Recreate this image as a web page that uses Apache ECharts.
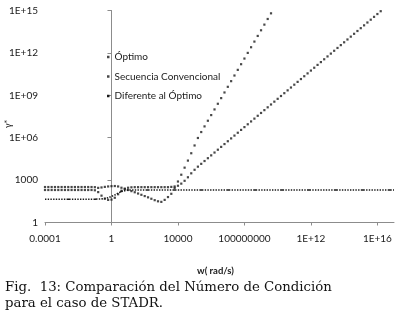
<!DOCTYPE html>
<html>
<head>
<meta charset="utf-8">
<script src="https://cdn.jsdelivr.net/npm/echarts@6/dist/echarts.min.js"></script>
<style>
  html, body { margin: 0; padding: 0; background: #fff; }
  #chart { width: 399px; height: 326px; }
</style>
</head>
<body>
<div id="chart"></div>
<script>
// both axes are logarithmic: values are stored as log10 exponents
const xTickValues = [-4, 0, 4, 8, 12, 16];
const xTickLabels = ["0.0001", "1", "10000", "100000000", "1E+12", "1E+16"];
const yTickValues = [0, 3, 6, 9, 12, 15];
const yTickLabels = ["1", "1000", "1E+06", "1E+09", "1E+12", "1E+15"];

const seriesNames = ["Óptimo", "Secuencia Convencional", "Diferente al Óptimo"];

// log10(w) sample grid, 5 points per decade
const logW = [
  -4.0, -3.8, -3.6, -3.4, -3.2, -3.0, -2.8, -2.6, -2.4, -2.2,
  -2.0, -1.8, -1.6, -1.4, -1.2, -1.0, -0.8, -0.6, -0.4, -0.2,
  0.0, 0.2, 0.4, 0.6, 0.8, 1.0, 1.2, 1.4, 1.6, 1.8,
  2.0, 2.2, 2.4, 2.6, 2.8, 3.0, 3.2, 3.4, 3.6, 3.8,
  4.0, 4.2, 4.4, 4.6, 4.8, 5.0, 5.2, 5.4, 5.6, 5.8,
  6.0, 6.2, 6.4, 6.6, 6.8, 7.0, 7.2, 7.4, 7.6, 7.8,
  8.0, 8.2, 8.4, 8.6, 8.8, 9.0, 9.2, 9.4, 9.6, 9.8,
  10.0, 10.2, 10.4, 10.6, 10.8, 11.0, 11.2, 11.4, 11.6, 11.8,
  12.0, 12.2, 12.4, 12.6, 12.8, 13.0, 13.2, 13.4, 13.6, 13.8,
  14.0, 14.2, 14.4, 14.6, 14.8, 15.0, 15.2, 15.4, 15.6, 15.8,
  16.0, 16.2, 16.4
];

// log10(gamma*) for "Óptimo"
const logOptimo = [
  2.3, 2.3, 2.3, 2.3, 2.3, 2.3, 2.3, 2.3, 2.3, 2.3,
  2.3, 2.3, 2.3, 2.3, 2.3, 2.28, 2.15, 1.9, 1.68, 1.6,
  1.62, 1.75, 2.0, 2.25, 2.4, 2.46, 2.49, 2.5, 2.5, 2.5,
  2.5, 2.5, 2.5, 2.5, 2.5, 2.5, 2.5, 2.5, 2.52, 2.55,
  2.6, 2.75, 2.95, 3.2, 3.48, 3.73, 3.95, 4.15, 4.35, 4.55,
  4.75, 4.95, 5.15, 5.35, 5.55, 5.75, 5.95, 6.15, 6.35, 6.55,
  6.75, 6.95, 7.15, 7.35, 7.55, 7.75, 7.95, 8.15, 8.35, 8.55,
  8.75, 8.95, 9.15, 9.35, 9.55, 9.75, 9.95, 10.15, 10.35, 10.55,
  10.75, 10.95, 11.15, 11.35, 11.55, 11.75, 11.95, 12.15, 12.35, 12.55,
  12.75, 12.95, 13.15, 13.35, 13.55, 13.75, 13.95, 14.15, 14.35, 14.55,
  14.75, 14.95, 15.15
];

// log10(gamma*) for "Secuencia Convencional"
const logConvencional = [
  2.51, 2.51, 2.51, 2.51, 2.51, 2.51, 2.51, 2.51, 2.51, 2.51,
  2.51, 2.51, 2.51, 2.51, 2.51, 2.5, 2.45, 2.48, 2.52, 2.55,
  2.57, 2.58, 2.55, 2.46, 2.36, 2.3, 2.22, 2.14, 2.05, 1.96,
  1.87, 1.78, 1.68, 1.58, 1.5, 1.46, 1.6, 1.8, 2.03, 2.45,
  2.9, 3.38, 3.88, 4.38, 4.9, 5.45, 5.98, 6.4, 6.8, 7.2,
  7.6, 8.0, 8.4, 8.8, 9.2, 9.6, 10.0, 10.4, 10.8, 11.2,
  11.6, 12.0, 12.4, 12.8, 13.2, 13.6, 14.0, 14.4, 14.8, 15.2
];

// "Diferente al Óptimo" is drawn as a dash-dot line
const logWDiferente = [-4.0, -1.0, -0.6, -0.2, 0.2, 0.6, 1.0, 1.4, 17.0];
const logDiferente = [1.65, 1.65, 1.67, 1.75, 1.95, 2.2, 2.3, 2.3, 2.3];

const caption1 = "Fig.  13: Comparación del Número de Condición";
const caption2 = "para el caso de STADR.";

function pairs(xs, ys) {
  return ys.map((y, i) => [xs[i], y]);
}

const ink = "#1a1a1a";
const font = "Lato";

const chart = echarts.init(document.getElementById("chart"), null, { renderer: "canvas" });

const dashDot = [];
for (let k = 0; k < 8; k++) dashDot.push(1.4, 1.3);
dashDot.push(4, 1.3);

chart.setOption({
  animation: false,
  backgroundColor: "#fff",
  grid: { left: 45, right: 5, top: 10.5, bottom: 103.5 },
  legend: {
    orient: "vertical",
    left: 102,
    top: 46,
    icon: "rect",
    itemWidth: 2.5,
    itemHeight: 2.5,
    itemGap: 7.5,
    textStyle: { fontFamily: font, fontSize: 10, color: ink, lineHeight: 12 },
    data: seriesNames
  },
  xAxis: {
    type: "value",
    min: -4,
    max: 17,
    interval: 4,
    splitLine: { show: false },
    axisLine: { lineStyle: { color: "#8c8c8c", width: 1 } },
    axisTick: { length: 3, lineStyle: { color: "#8c8c8c" }, customValues: xTickValues },
    axisLabel: {
      customValues: xTickValues,
      margin: 11,
      fontFamily: font,
      fontSize: 10,
      color: ink,
      formatter: v => xTickLabels[xTickValues.indexOf(Math.round(v))] || ""
    }
  },
  yAxis: {
    type: "value",
    min: 0,
    max: 15,
    interval: 3,
    splitLine: { show: false },
    axisLine: { show: true, lineStyle: { color: "#8c8c8c", width: 1 } },
    axisTick: { show: true, length: 4, lineStyle: { color: "#8c8c8c" }, customValues: yTickValues },
    axisLabel: {
      customValues: yTickValues,
      margin: 7,
      fontFamily: font,
      fontSize: 10,
      color: ink,
      formatter: v => yTickLabels[yTickValues.indexOf(Math.round(v))] || ""
    }
  },
  series: [
    {
      name: seriesNames[0],
      type: "scatter",
      symbol: "rect",
      symbolSize: 2.2,
      itemStyle: { color: ink },
      data: pairs(logW, logOptimo)
    },
    {
      name: seriesNames[1],
      type: "scatter",
      symbol: "rect",
      symbolSize: 2.2,
      itemStyle: { color: ink },
      data: pairs(logW, logConvencional)
    },
    {
      name: seriesNames[2],
      type: "line",
      showSymbol: false,
      symbol: "rect",
      itemStyle: { color: ink },
      lineStyle: { color: ink, width: 1.6, type: dashDot },
      data: pairs(logWDiferente, logDiferente)
    }
  ],
  graphic: [
    {
      type: "text",
      x: 8,
      y: 124,
      rotation: Math.PI / 2,
      style: { text: "γ*", font: "9px " + font, fill: ink, align: "center", verticalAlign: "middle" }
    },
    {
      type: "text",
      x: 215.5,
      y: 271,
      style: {
        text: "w( rad/s)", font: "bold 9.5px " + font, fill: ink,
        align: "center", verticalAlign: "middle"
      }
    },
    {
      type: "text",
      x: 5,
      y: 288,
      style: { text: caption1, font: "13.3px 'DejaVu Serif'", fill: "#111", verticalAlign: "middle" }
    },
    {
      type: "text",
      x: 5,
      y: 304,
      style: { text: caption2, font: "13.3px 'DejaVu Serif'", fill: "#111", verticalAlign: "middle" }
    }
  ]
});
</script>
</body>
</html>
